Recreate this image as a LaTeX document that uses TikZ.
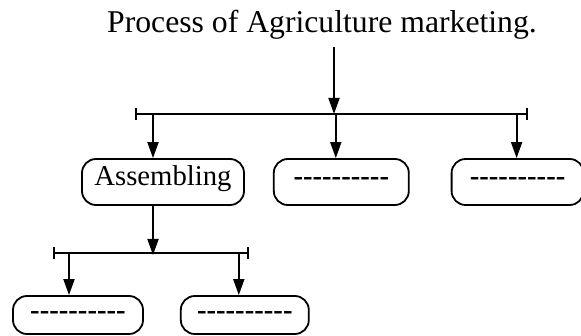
\documentclass[tikz,border=0pt]{standalone}
\usepackage{fontspec}
\setmainfont{Liberation Serif}
\usetikzlibrary{positioning,arrows.meta}
\newcommand{\blanks}{\bfseries-{}-{}-{}-{}-{}-{}-{}-{}-{}-}

\begin{document}
\begin{tikzpicture}[x=1pt,y=-1pt,
			>={Triangle[length=16pt,width=11pt]},
			line width=1.8pt,
			stage/.style={
				draw,
				rounded corners=14pt,
				inner sep=0pt,
				minimum height=46pt,
				text height=0.8em,
				text depth=0pt,
				font=\fontsize{28.7}{32}\selectfont
			},
			split/.style={{Bar[width=12pt]}-{Bar[width=12pt]}}]
			
			\useasboundingbox (0,0) rectangle (581,336);
			
			\node (title)[anchor=base,font=\fontsize{31.7}{36}\selectfont] at (322,33){Process of Agriculture marketing.};
			
			\node (assemble)[stage,minimum width=162pt] at (163,182){Assembling};
			
			\node (mid)[stage,minimum width=135pt,right=28pt of assemble]{\blanks};
			
			\node (last)[stage,minimum width=132pt,right=41pt of mid]{\blanks};
			
			\node (sub1)[stage,minimum width=130pt,minimum height=38pt,text height=0.95em] at (78,315){\blanks};
			
			\node (sub2)[stage,minimum width=128pt,minimum height=38pt,text height=0.95em,right=36pt of sub1]{\blanks};
			
			\coordinate (feed) at (334,47);
			\coordinate (bar1) at (334,114);
			\coordinate (bar1w) at (135,114);
			\coordinate (bar1e) at (528,114);
			
			\coordinate (d1) at ([xshift=-10pt]assemble.north);
			\coordinate (d2) at ([xshift=-5.5pt]mid.north);
			\coordinate (d3) at ([xshift=-1pt]last.north);
			
			\coordinate (d4) at ([xshift=-10pt]assemble.south);
			\coordinate (bar2) at (153,253);
			\coordinate (bar2w) at (53,253);
			\coordinate (bar2e) at (249,253);
			
			\coordinate (d5) at ([xshift=-9pt]sub1.north);
			\coordinate (d6) at ([xshift=-6pt]sub2.north);
			
			\draw[->](feed)--(bar1);
			
			\draw[split](bar1w)--(bar1e);
			
			\draw[->](d1 |- bar1)--(d1);
			
			\draw[->](d2 |- bar1)--(d2);
			
			\draw[->](d3 |- bar1)--(d3);
			
			\draw[->](d4)--([yshift=-2pt]bar2);
			
			\draw[split](bar2w)--(bar2e);
			
			\draw[->](d5 |- bar2)--(d5);
			
			\draw[->](d6 |- bar2)--(d6);
			
		\end{tikzpicture}
\end{document}
